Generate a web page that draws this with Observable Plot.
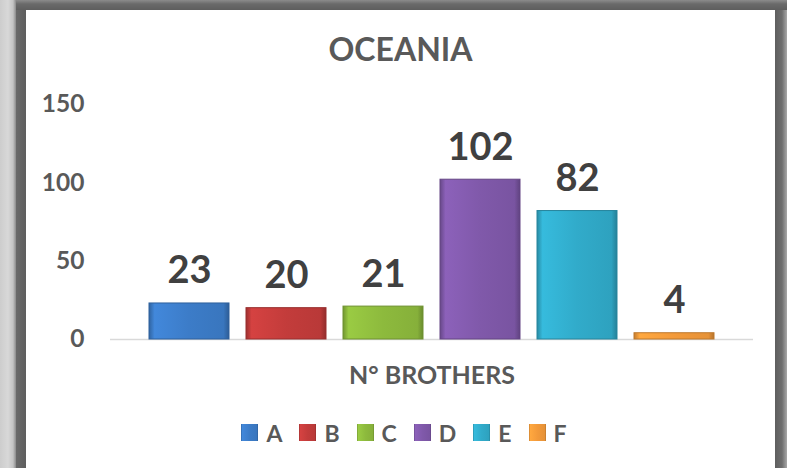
<!DOCTYPE html>
<html>
<head>
<meta charset="utf-8">
<script src="https://cdn.jsdelivr.net/npm/d3@7"></script>
<script src="https://cdn.jsdelivr.net/npm/@observablehq/plot@0.6"></script>
<style>
  html, body { margin: 0; padding: 0; }
  body { width: 787px; height: 468px; overflow: hidden; position: relative;
         background: linear-gradient(to right, #cdcdcd 0px, #d8d8d8 8px, #c4c4c4 13px, #8a8a8a 16px, #cfcfcf 16px); font-family: Lato, "Open Sans", sans-serif; }
  #frame { position: absolute; left: 16px; top: 0; width: 771px; height: 468px;
           background: linear-gradient(to right, #6a6a6a 0px, #5e5e5e 10px, #5e5e5e 759px, #6e6e6e 766px, #a8a8a8 771px); }
  #frameTop { position: absolute; left: 16px; top: 0; width: 771px; height: 10px;
           background: linear-gradient(to bottom, #8c8c8c 0px, #6a6a6a 4px, #5e5e5e 10px); }
  #white { position: absolute; left: 26px; top: 10px; width: 749px; height: 458px; background: #fff; }
  #title { position: absolute; left: 26px; top: 32px; width: 749px; text-align: center;
           font: bold 32px Lato, sans-serif; line-height: 34px; color: #595959; }
  #chart { position: absolute; left: 0; top: 80px; }
  #legend { position: absolute; left: 0; top: 416px; width: 825px; }
  #legend .lg-swatches { font: bold 23px Lato, sans-serif; color: #595959; margin: 0; }
  #legend .lg-swatches-wrap { justify-content: center; min-height: 33px; }
  #legend .lg-swatches-wrap .lg-swatch { margin-right: 17px; }
  #legend .lg-swatch > svg { margin-right: 8px; }
</style>
</head>
<body>
<div id="frame"></div>
<div id="frameTop"></div>
<div id="white"></div>
<div id="title"></div>
<div id="chart"></div>
<div id="legend"></div>
<script>
// ---- data ----
const titleText = "OCEANIA";
const xLabel = "N° BROTHERS";
const categories = ["A", "B", "C", "D", "E", "F"];
const values = [23, 20, 21, 102, 82, 4];
const colors = ["#3c7cc8", "#c33c3b", "#8dba3d", "#8059aa", "#31abca", "#f39a3a"];
const yTicks = [0, 50, 100, 150];

const data = categories.map((c, i) => ({cat: c, value: values[i]}));

// ---- gradient defs (bevel look) ----
const defsSvg = d3.select("body").append("svg")
  .attr("width", 0).attr("height", 0)
  .style("position", "absolute");
const defs = defsSvg.append("defs");
const gradIds = categories.map((c, i) => {
  const base = d3.color(colors[i]);
  const id = "grad" + c;
  const g = defs.append("linearGradient").attr("id", id)
    .attr("x1", 0).attr("y1", 0).attr("x2", 1).attr("y2", 0);
  g.append("stop").attr("offset", "0%").attr("stop-color", base.darker(0.6));
  g.append("stop").attr("offset", "7%").attr("stop-color", base.brighter(0.25));
  g.append("stop").attr("offset", "50%").attr("stop-color", base);
  g.append("stop").attr("offset", "93%").attr("stop-color", base.darker(0.15));
  g.append("stop").attr("offset", "100%").attr("stop-color", base.darker(0.8));
  return `url(#${id})`;
});
const strokes = colors.map(c => d3.color(c).darker(0.7).formatHex());

document.getElementById("title").textContent = titleText;

const chart = Plot.plot({
  width: 787,
  height: 310,
  marginTop: 24,
  marginBottom: 51,
  marginLeft: 110,
  marginRight: 34,
  style: {fontFamily: "Lato, sans-serif", fontWeight: "bold", background: "transparent", overflow: "visible"},
  x: {domain: categories, paddingInner: 0.18, paddingOuter: 0, insetLeft: 39, insetRight: 39, axis: null},
  y: {domain: [0, 150], axis: null},
  color: {domain: categories, range: gradIds},
  marks: [
    Plot.ruleY([0], {stroke: "#d9d9d9", strokeWidth: 1.5}),
    Plot.axisY({ticks: yTicks, tickSize: 0, tickPadding: 26, label: null, fontSize: 24.5, fill: "#595959", fontWeight: "bold"}),
    Plot.barY(data, {x: "cat", y: "value", fill: "cat", stroke: (d, i) => strokes[i], strokeWidth: 1}),
    Plot.text(data, {x: "cat", y: "value", text: d => String(d.value), dy: -20, lineAnchor: "bottom",
                     fontSize: 38, fontWeight: "bold", fill: "#404040"}),
    Plot.text([xLabel], {frameAnchor: "bottom", text: d => d, dy: 44, fontSize: 25, fontWeight: "bold", fill: "#595959"})
  ]
});
document.getElementById("chart").appendChild(chart);

const legend = Plot.legend({
  color: {type: "ordinal", domain: categories, range: gradIds},
  swatchSize: 17,
  className: "lg"
});
document.getElementById("legend").appendChild(legend);
</script>
</body>
</html>
